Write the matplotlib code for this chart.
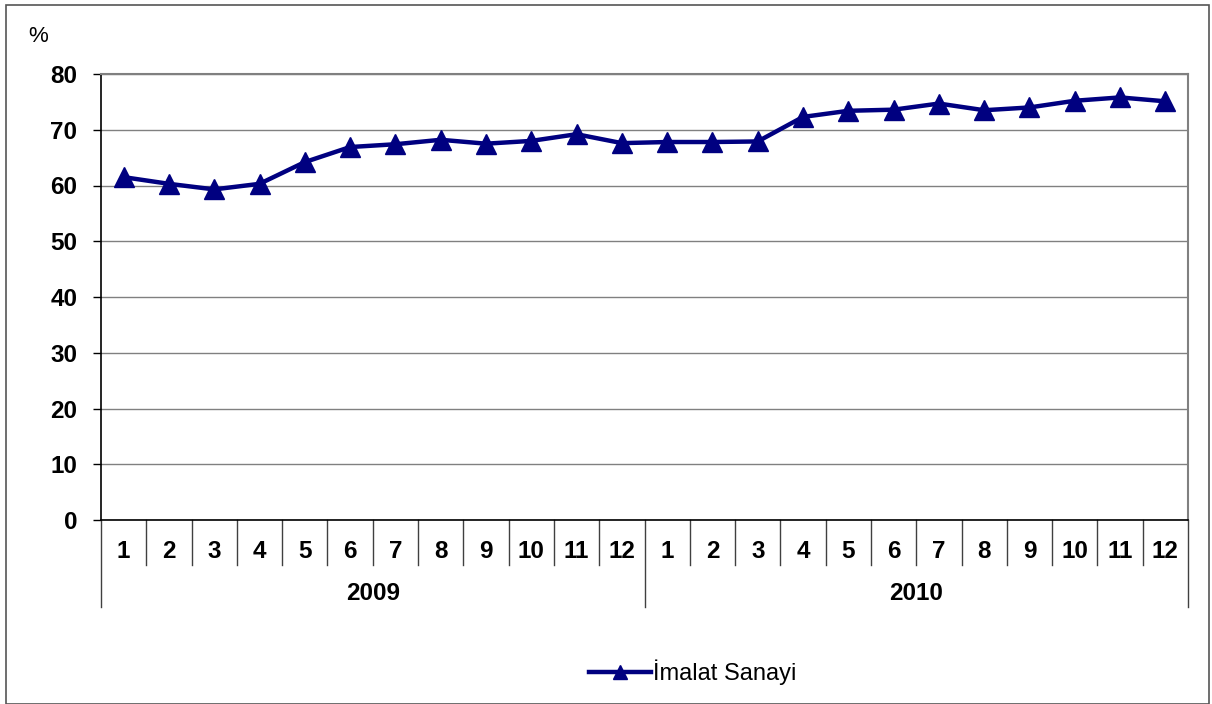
import matplotlib
matplotlib.use("Agg")
import matplotlib.pyplot as plt
import matplotlib.transforms as mtransforms
from matplotlib.lines import Line2D
from matplotlib.patches import Rectangle

plt.rcParams['font.family'] = ['Liberation Sans', 'DejaVu Sans']

months = ["1", "2", "3", "4", "5", "6", "7", "8", "9", "10", "11", "12"] * 2
years = ["2009", "2010"]
values = [61.5, 60.3, 59.3, 60.3, 64.2, 66.9, 67.4, 68.2, 67.5, 68.0, 69.2, 67.6,
          67.8, 67.8, 67.9, 72.3, 73.4, 73.6, 74.7, 73.5, 74.0, 75.2, 75.8, 75.1]
series_name = "İmalat Sanayi"
yticks = [0, 10, 20, 30, 40, 50, 60, 70, 80]

W, H = 1212, 704
fig = plt.figure(figsize=(W / 100, H / 100), dpi=100)
ax = fig.add_axes([101 / W, 1 - 520 / H, (1188 - 101) / W, (520 - 74) / H])

navy = "#000080"
x = list(range(len(values)))
ax.plot(x, values, color=navy, lw=3.2, marker="^", markersize=14.5, zorder=3)

ax.set_xlim(-0.5, len(values) - 0.5)
ax.set_ylim(0, 80)
ax.set_yticks(yticks)
ax.set_yticklabels([str(v) for v in yticks], fontsize=17.5, fontweight="bold")
ax.tick_params(axis="y", length=6, width=1, color="black", pad=11, direction="out")
ax.yaxis.grid(True, color="#808080", lw=1)
ax.set_axisbelow(True)

ax.set_xticks(x)
ax.set_xticklabels(months, fontsize=17.5, fontweight="bold")
ax.tick_params(axis="x", length=0, pad=14.5)

for s in ["top", "right"]:
    ax.spines[s].set_color("#808080")
    ax.spines[s].set_linewidth(1.5)
for s in ["left", "bottom"]:
    ax.spines[s].set_color("black")
    ax.spines[s].set_linewidth(1.2)

# category separators below axis
trans = mtransforms.blended_transform_factory(ax.transData, ax.transAxes)
month_drop = 45 / (520 - 74)
year_drop = 87 / (520 - 74)
n = len(values)
for i in range(n + 1):
    xp = i - 0.5
    drop = year_drop if i % 12 == 0 else month_drop
    ax.plot([xp, xp], [0, -drop], transform=trans, color="#404040", lw=1, clip_on=False)

for j, yr in enumerate(years):
    ax.text(j * 12 + 5.5, -(593 - 520) / (520 - 74), yr, transform=trans,
            ha="center", va="center", fontsize=17.5, fontweight="bold")

fig.text(38 / W, 1 - 37 / H, "%", ha="center", va="center", fontsize=16)

handle = Line2D([0], [0], color=navy, lw=3.2, marker="^", markersize=10)
fig.legend([handle], [series_name], loc="center", bbox_to_anchor=(693 / W, 1 - 672 / H),
           frameon=False, fontsize=17, handlelength=2.6, handletextpad=0.1)

fig.patches.append(Rectangle((6 / W, 0), (1209 - 6) / W, 1 - 5 / H, transform=fig.transFigure,
                             fill=False, edgecolor="#555555", lw=1.2))

fig.savefig("out.png", dpi=100)
